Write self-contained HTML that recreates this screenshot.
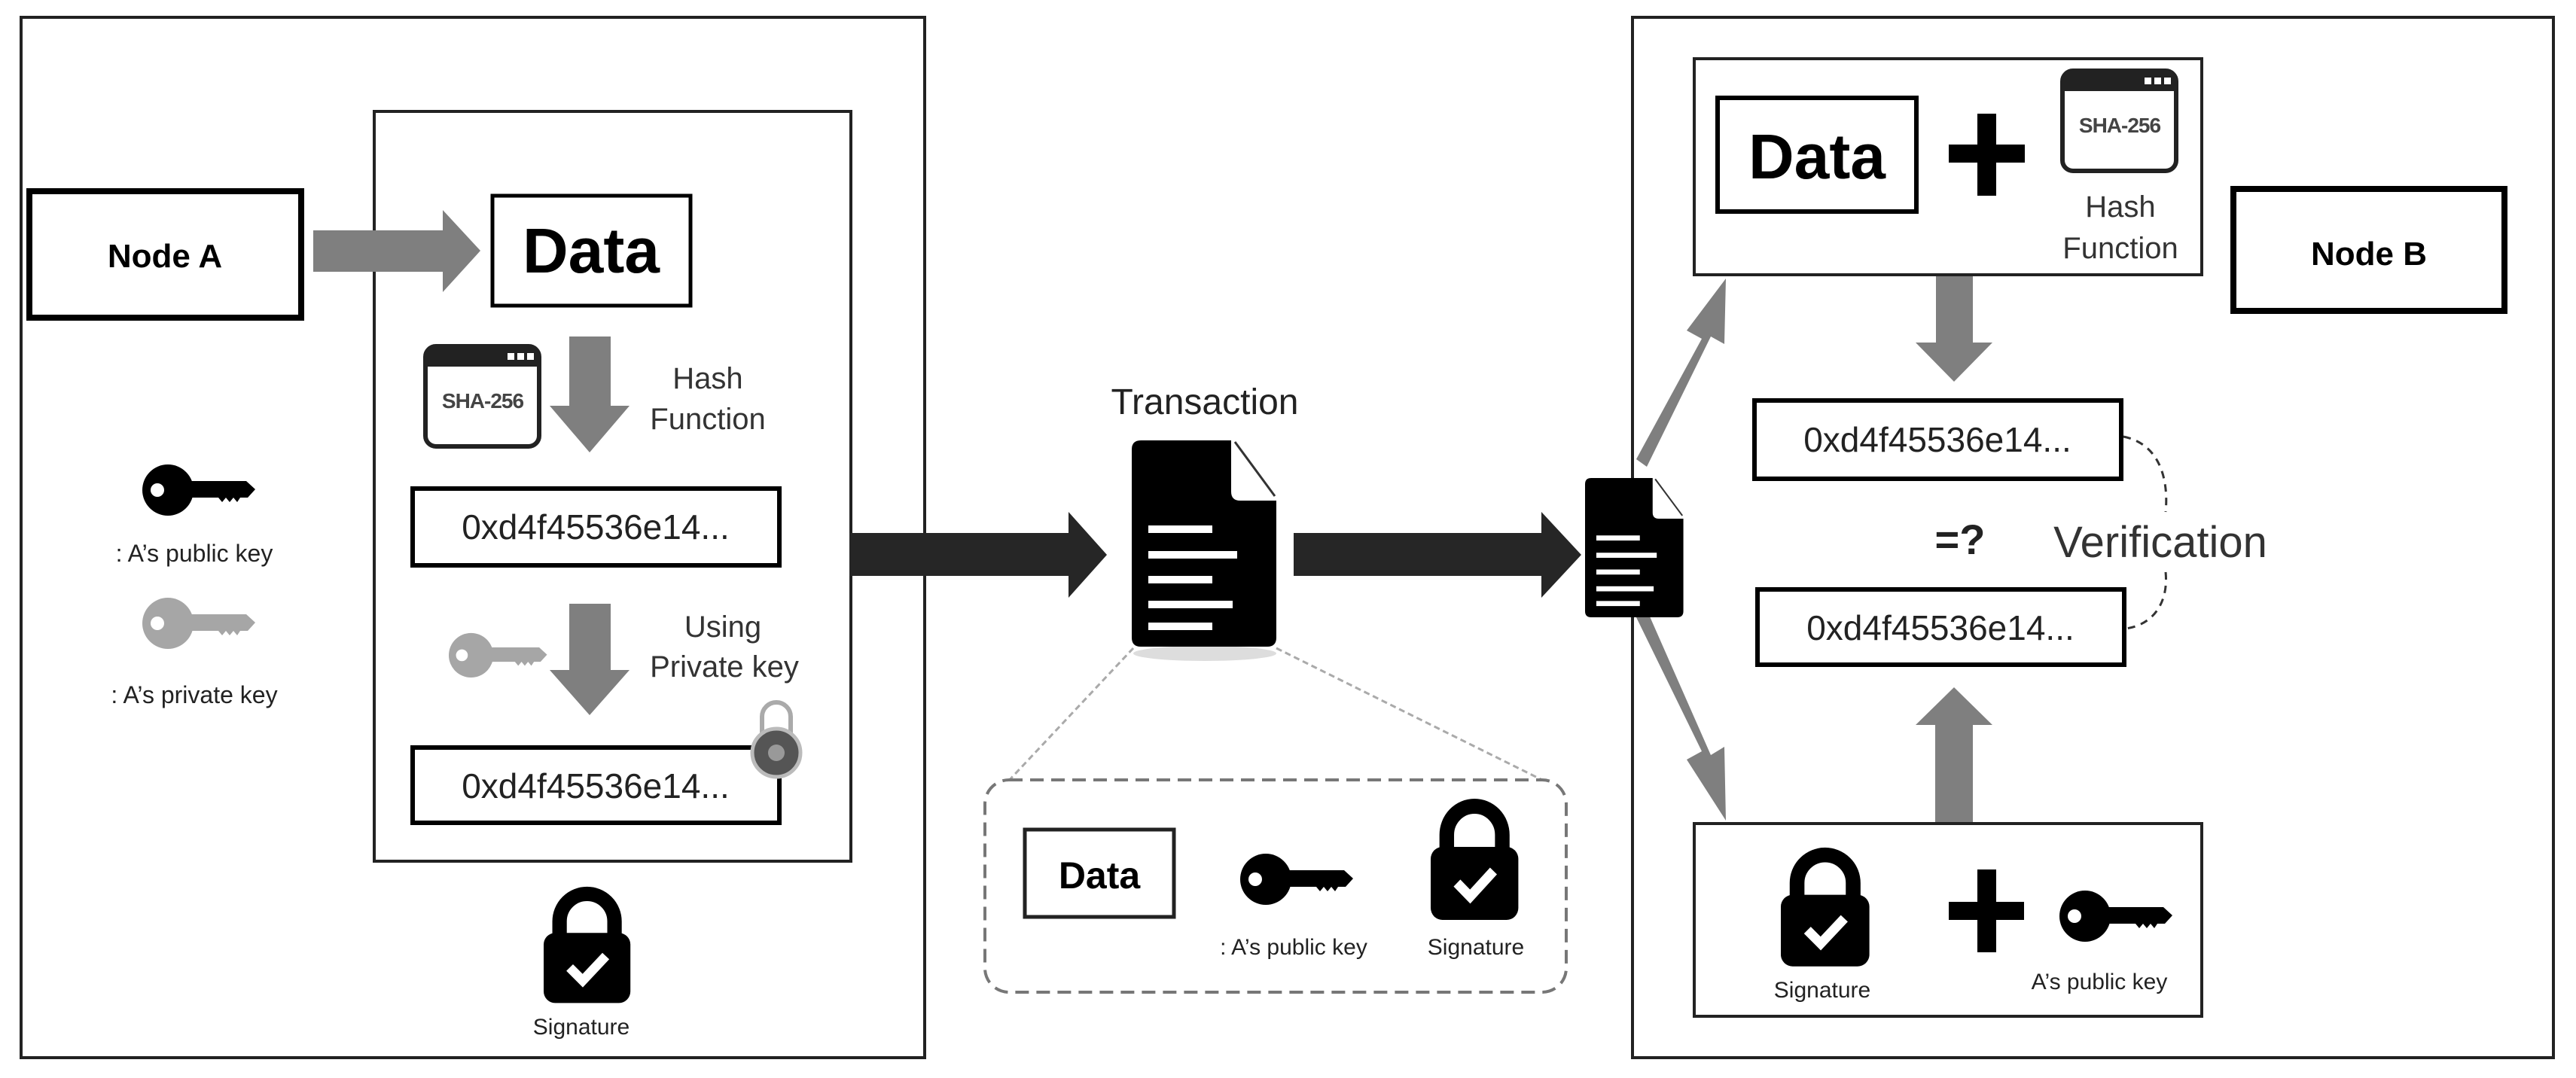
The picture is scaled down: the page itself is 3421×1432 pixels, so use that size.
<!DOCTYPE html>
<html><head><meta charset="utf-8"><style>
html,body{margin:0;padding:0;background:#fff;}
svg{display:block;}
text{font-family:"Liberation Sans",sans-serif;}
</style></head><body>
<svg width="3421" height="1432" viewBox="0 0 3421 1432" xmlns="http://www.w3.org/2000/svg">
<defs>
<g id="key"><circle cx="34" cy="35" r="34"/><path d="M58 23 H138 L150 34 L140 45 H130 L126 51 L121 45 L116 51 L111 45 L106 51 L101 45 H58 Z"/><circle cx="20" cy="35" r="9" fill="#fff"/></g>
<g id="lock"><path d="M22 78 V52 a38 38 0 0 1 76 0 V78" fill="none" stroke="#000" stroke-width="20"/><rect x="0" y="68" width="120" height="97" rx="16"/><polyline points="36,116 54,134 86,100" fill="none" stroke="#fff" stroke-width="13"/></g>
<g id="doc"><path d="M12 0 H132 V68 q0 12 12 12 H192 V262 q0 12 -12 12 H12 q-12 0 -12 -12 V12 q0 -12 12 -12Z" fill="#000"/><path d="M137 2 L190 74" stroke="#333" stroke-width="3"/>
<g fill="#fff"><rect x="22" y="113" width="85" height="10"/><rect x="22" y="147" width="118" height="10"/><rect x="22" y="180" width="85" height="10"/><rect x="22" y="213" width="112" height="10"/><rect x="22" y="262" width="85" height="10" transform="translate(0,-20)"/></g></g>
<g id="sha"><rect x="3" y="3" width="151" height="133" rx="14" fill="#fff" stroke="#222" stroke-width="6"/><path d="M3 30 V17 a14 14 0 0 1 14 -14 H140 a14 14 0 0 1 14 14 V30 Z" fill="#222"/><g fill="#fff"><rect x="112" y="12" width="9" height="9"/><rect x="125" y="12" width="9" height="9"/><rect x="138" y="12" width="9" height="9"/></g><text x="79" y="85" text-anchor="middle" font-size="28" font-weight="bold" fill="#444" letter-spacing="-1">SHA-256</text></g>
</defs>

<!-- Left panel -->
<rect x="28" y="23" width="1200" height="1382" fill="none" stroke="#222" stroke-width="4"/>
<rect x="497" y="148" width="633" height="996" fill="none" stroke="#222" stroke-width="4"/>
<rect x="39" y="254" width="361" height="168" fill="#fff" stroke="#000" stroke-width="8"/>
<text x="219" y="355" text-anchor="middle" font-size="44" font-weight="bold">Node A</text>
<polygon points="416,306 588,306 588,279 638,333 588,388 588,361 416,361" fill="#7f7f7f"/>
<rect x="654" y="260" width="263" height="146" fill="#fff" stroke="#000" stroke-width="5"/>
<text x="785" y="362" text-anchor="middle" font-size="84" font-weight="bold">Data</text>
<use href="#sha" x="562" y="457"/>
<polygon points="756,447 811,447 811,539 836,539 783,601 730,539 756,539" fill="#7f7f7f"/>
<text x="940" y="516" text-anchor="middle" font-size="40" fill="#333">Hash</text>
<text x="940" y="570" text-anchor="middle" font-size="40" fill="#333">Function</text>
<rect x="548" y="649" width="487" height="102" fill="#fff" stroke="#000" stroke-width="6"/>
<text x="791" y="716" text-anchor="middle" font-size="46" fill="#222">0xd4f45536e14...</text>
<use href="#key" x="596" y="840" fill="#a6a6a6" transform="translate(596,840) scale(0.87) translate(-596,-840)"/>
<polygon points="756,802 811,802 811,890 836,890 783,950 730,890 756,890" fill="#7f7f7f"/>
<text x="960" y="846" text-anchor="middle" font-size="40" fill="#333">Using</text>
<text x="962" y="899" text-anchor="middle" font-size="40" fill="#333">Private key</text>
<rect x="548" y="993" width="487" height="100" fill="#fff" stroke="#000" stroke-width="6"/>
<text x="791" y="1060" text-anchor="middle" font-size="46" fill="#222">0xd4f45536e14...</text>
<path d="M1012 975 V952 a19 19 0 0 1 38 0 V975" fill="none" stroke="#aaa" stroke-width="6"/>
<circle cx="1031" cy="1000" r="32" fill="#555" stroke="#bbb" stroke-width="5"/><circle cx="1031" cy="1000" r="11" fill="#999"/>
<use href="#lock" transform="translate(722,1174) scale(0.96)"/>
<text x="772" y="1374" text-anchor="middle" font-size="30" fill="#222">Signature</text>
<use href="#key" transform="translate(189,616)"/>
<text x="258" y="746" text-anchor="middle" font-size="32" fill="#222">: A’s public  key</text>
<use href="#key" transform="translate(189,793)" fill="#a6a6a6"/>
<text x="258" y="934" text-anchor="middle" font-size="32" fill="#222">: A’s private  key</text>

<!-- Middle -->
<polygon points="1128,708 1419,708 1419,680 1470,737 1419,794 1419,765 1128,765" fill="#262626"/>
<text x="1600" y="550" text-anchor="middle" font-size="48" fill="#222">Transaction</text>
<ellipse cx="1600" cy="868" rx="95" ry="10" fill="#ddd"/>
<use href="#doc" x="1503" y="585"/>
<polygon points="1718,708 2047,708 2047,680 2100,737 2047,794 2047,765 1718,765" fill="#262626"/>
<line x1="1505" y1="861" x2="1335" y2="1042" stroke="#aaa" stroke-width="3" stroke-dasharray="8,5"/>
<line x1="1695" y1="861" x2="2060" y2="1042" stroke="#aaa" stroke-width="3" stroke-dasharray="8,5"/>
<rect x="1308" y="1036" width="772" height="282" rx="32" fill="#fff" stroke="#777" stroke-width="4" stroke-dasharray="18,10"/>
<rect x="1361" y="1102" width="198" height="116" fill="#fff" stroke="#222" stroke-width="5"/>
<text x="1460" y="1180" text-anchor="middle" font-size="50" font-weight="bold">Data</text>
<use href="#key" transform="translate(1647,1133)"/>
<text x="1718" y="1268" text-anchor="middle" font-size="30" fill="#222">: A’s public  key</text>
<use href="#lock" transform="translate(1900,1057) scale(0.97,1.0)"/>
<text x="1960" y="1268" text-anchor="middle" font-size="30" fill="#222">Signature</text>

<!-- Right panel -->
<rect x="2168" y="23" width="1223" height="1382" fill="none" stroke="#222" stroke-width="4"/>
<polygon points="2173,610 2260,450 2240,439 2292,370 2290,457 2272,447 2187,620" fill="#7f7f7f"/>
<polygon points="2173,820 2260,998 2240,1009 2292,1090 2290,992 2272,1003 2187,810" fill="#7f7f7f"/>
<use href="#doc" transform="translate(2105,635) scale(0.68,0.675)"/>
<rect x="2250" y="78" width="674" height="287" fill="#fff" stroke="#222" stroke-width="4"/>
<rect x="2281" y="130" width="264" height="151" fill="#fff" stroke="#000" stroke-width="6"/>
<text x="2413" y="237" text-anchor="middle" font-size="84" font-weight="bold">Data</text>
<rect x="2588" y="192" width="101" height="24" fill="#000"/><rect x="2626" y="151" width="25" height="109" fill="#000"/>
<use href="#sha" x="2736" y="91"/>
<text x="2816" y="288" text-anchor="middle" font-size="40" fill="#333">Hash</text>
<text x="2816" y="343" text-anchor="middle" font-size="40" fill="#333">Function</text>
<rect x="2966" y="251" width="360" height="162" fill="#fff" stroke="#000" stroke-width="8"/>
<text x="3146" y="352" text-anchor="middle" font-size="44" font-weight="bold">Node B</text>
<polygon points="2571,367 2620,367 2620,455 2646,455 2595,507 2544,455 2571,455" fill="#7f7f7f"/>
<rect x="2330" y="532" width="487" height="104" fill="#fff" stroke="#000" stroke-width="6"/>
<text x="2573" y="600" text-anchor="middle" font-size="46" fill="#222">0xd4f45536e14...</text>
<path d="M2820 580 C2870 590 2880 640 2876 680 M2876 760 C2880 800 2860 830 2823 835" fill="none" stroke="#333" stroke-width="3" stroke-dasharray="10,8"/>
<text x="2603" y="736" text-anchor="middle" font-size="56" font-weight="bold" fill="#222">=?</text>
<text x="2869" y="740" text-anchor="middle" font-size="58" fill="#333">Verification</text>
<rect x="2334" y="783" width="487" height="100" fill="#fff" stroke="#000" stroke-width="6"/>
<text x="2577" y="850" text-anchor="middle" font-size="46" fill="#222">0xd4f45536e14...</text>
<polygon points="2570,1093 2620,1093 2620,963 2646,963 2595,913 2544,963 2570,963" fill="#7f7f7f"/>
<rect x="2250" y="1094" width="674" height="256" fill="#fff" stroke="#222" stroke-width="4"/>
<use href="#lock" transform="translate(2365,1122) scale(0.98,0.98)"/>
<text x="2420" y="1325" text-anchor="middle" font-size="30" fill="#222">Signature</text>
<rect x="2588" y="1198" width="100" height="24" fill="#000"/><rect x="2626" y="1155" width="25" height="110" fill="#000"/>
<use href="#key" transform="translate(2735,1182)"/>
<text x="2788" y="1314" text-anchor="middle" font-size="30" fill="#222">A’s public  key</text>
</svg>
</body></html>
